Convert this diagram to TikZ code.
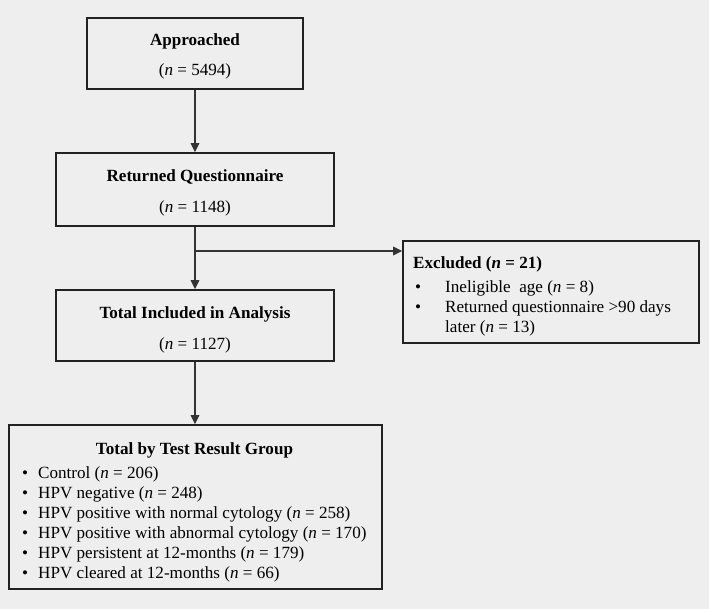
\documentclass[tikz,border=0pt]{standalone}
\usepackage{fontspec}
\setmainfont{Liberation Serif}
\usetikzlibrary{arrows.meta}
\definecolor{bg}{HTML}{EEEEEE}
\definecolor{ln}{HTML}{222222}
\definecolor{ar}{HTML}{333333}
\newcommand{\blt}{\makebox[16pt][l]{\textbullet}}
\newcommand{\bltw}{\makebox[30pt][l]{\textbullet}}
\begin{document}
\begin{tikzpicture}[x=1pt,y=-1pt,
  box/.style={draw=ln, line width=1.6pt, fill=bg, inner sep=0pt, rectangle},
  txt/.style={inner sep=0pt, font=\fontsize{17.1}{20}\selectfont, text=black},
  conn/.style={draw=ar, line width=1.3pt, -{Triangle[length=9pt,width=8.5pt]}}]
\fill[bg] (0,0) rectangle (709,609);
\useasboundingbox (0,0) rectangle (709,609);
% boxes
\node[box, minimum width=216, minimum height=71] (appr) at (195,53.5) {};
\node[box, minimum width=278, minimum height=73] (ret) at (195,189.5) {};
\node[box, minimum width=278, minimum height=71] (incl) at (195,325.5) {};
\node[box, minimum width=373, minimum height=164] (grp) at (195.5,507) {};
\node[box, minimum width=296, minimum height=102] (excl) at (551,292) {};
% texts
\node[txt, anchor=base] (apprT) at (195,46) {\textbf{Approached}};
\node[txt, anchor=base] (apprN) at (195,76) {(\textit{n} = 5494)};
\node[txt, anchor=base] (retT) at (195,182) {\textbf{Returned Questionnaire}};
\node[txt, anchor=base] (retN) at (195,213) {(\textit{n} = 1148)};
\node[txt, anchor=base] (inclT) at (195,319) {\textbf{Total Included in Analysis}};
\node[txt, anchor=base] (inclN) at (195,349) {(\textit{n} = 1127)};
\node[txt, anchor=base] (grpT) at (194.5,454) {\textbf{Total by Test Result Group}};
\node[txt, anchor=base west] (g1) at (22,478) {\blt Control (\textit{n} = 206)};
\node[txt, anchor=base west] (g2) at (22,498) {\blt HPV negative (\textit{n} = 248)};
\node[txt, anchor=base west] (g3) at (22,518) {\blt HPV positive with normal cytology (\textit{n} = 258)};
\node[txt, anchor=base west] (g4) at (22,538) {\blt HPV positive with abnormal cytology (\textit{n} = 170)};
\node[txt, anchor=base west] (g5) at (22,558) {\blt HPV persistent at 12-months (\textit{n} = 179)};
\node[txt, anchor=base west] (g6) at (22,578) {\blt HPV cleared at 12-months (\textit{n} = 66)};
\node[txt, anchor=base west] (exT) at (413,269) {\textbf{Excluded (\textit{n} = 21)}};
\node[txt, anchor=base west] (ex1) at (415,293) {\bltw Ineligible~ age (\textit{n} = 8)};
\node[txt, anchor=base west] (ex2) at (415,313) {\bltw Returned questionnaire >90 days};
\node[txt, anchor=base west] (ex3) at (445,333) {later (\textit{n} = 13)};
% connectors
\coordinate (br) at (195,251);
\draw[conn] (appr.south) -- (ret.north);
\draw[conn] (ret.south) -- (incl.north);
\draw[conn] (br) -- (br -| excl.west);
\draw[conn] (incl.south) -- (incl.south |- grp.north);
\end{tikzpicture}
\end{document}
